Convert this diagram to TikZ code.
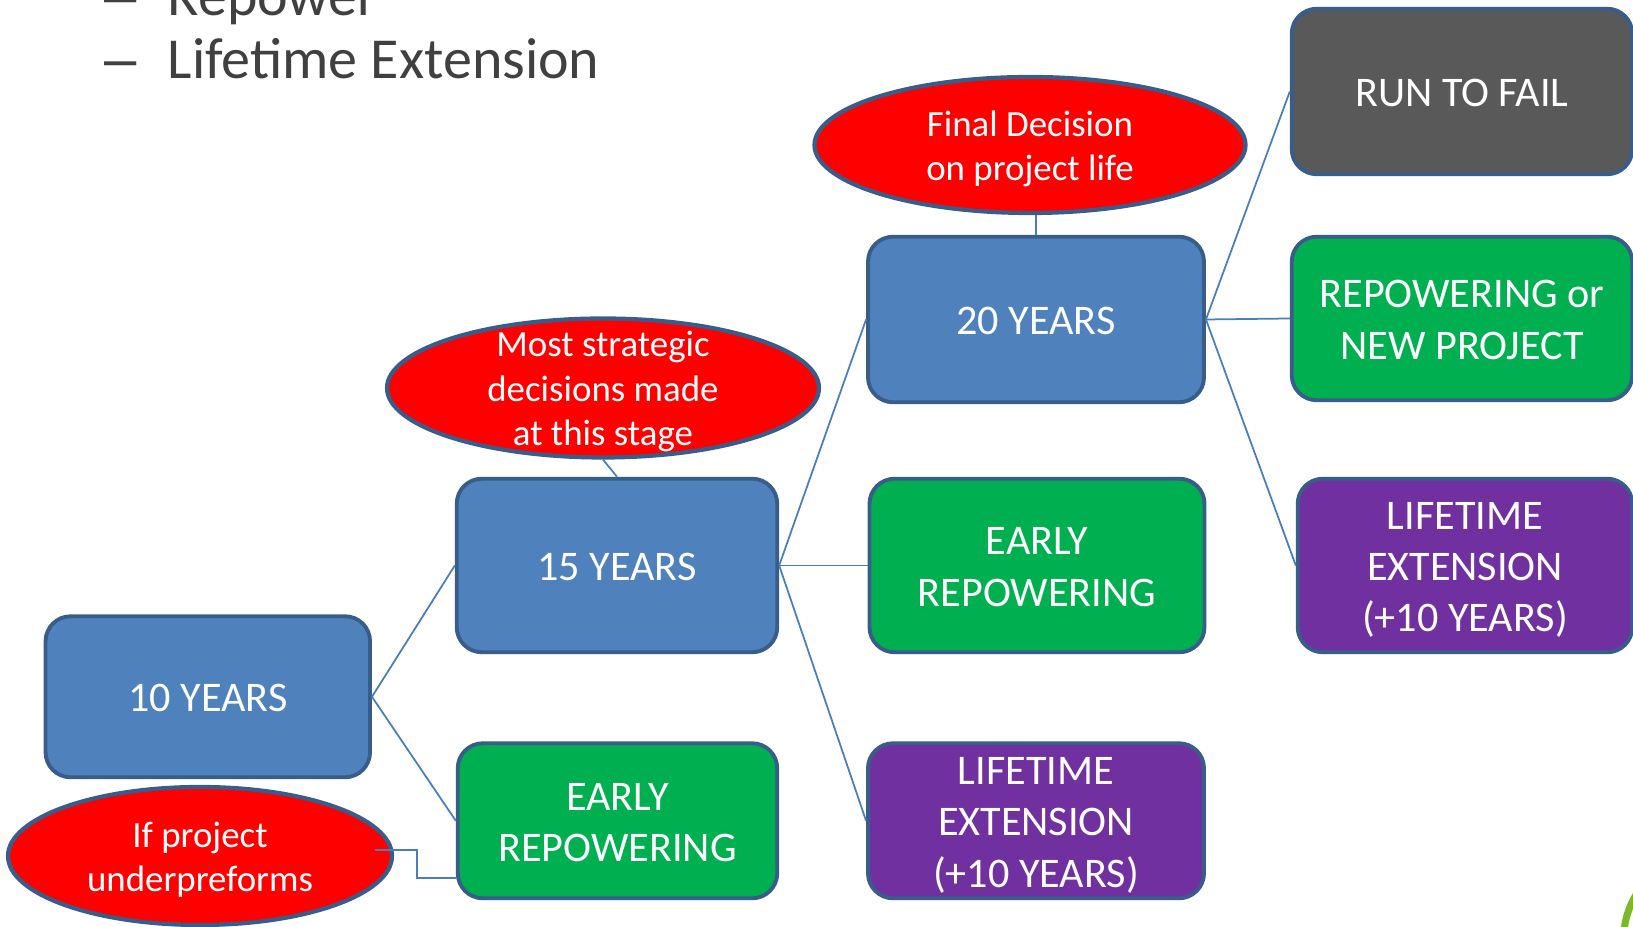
\documentclass[tikz,border=0pt]{standalone}
\usepackage{fontspec}
\setmainfont{Carlito}
\newfontfamily\dashfont{Liberation Sans}
\usepackage{xcolor}
\usepackage{tikz}
\usetikzlibrary{calc,shapes.geometric}
\definecolor{stageblue}{HTML}{4F81BD}
\definecolor{edge}{HTML}{385D8A}
\definecolor{linkblue}{HTML}{4A7EBB}
\definecolor{repgreen}{HTML}{00B050}
\definecolor{extpurple}{HTML}{7030A0}
\definecolor{failgray}{HTML}{595959}
\definecolor{heading}{HTML}{404040}
\definecolor{logogreen}{HTML}{7AB929}
% line boxes as the slide sets them: full ascent on the first line
\newcommand{\toprow}{\rule{0pt}{11.6pt}}
\newcommand{\notetop}{\rule{0pt}{10.2pt}}
\tikzset{
  box/.style={draw=edge, line width=1.1pt, rounded corners=0.25cm, text=white, align=center,
    inner xsep=2pt, inner ysep=0pt,
    font=\fontsize{12}{14.6}\selectfont, execute at end node={\rule[-3pt]{0pt}{3pt}}},
  stage/.style={box, fill=stageblue},
  repower/.style={box, fill=repgreen},
  extend/.style={box, fill=extpurple},
  fail/.style={box, fill=failgray},
  note/.style={ellipse, draw=edge, fill=red, line width=1.2pt, inner sep=0pt},
  notetext/.style={text=white, align=center, inner sep=0pt,
    font=\fontsize{10.5}{12.7}\selectfont, execute at end node={\rule[-2.6pt]{0pt}{2.6pt}}},
  link/.style={draw=linkblue, line width=0.5pt},
  bullet/.style={text=heading, anchor=base west, inner sep=0pt, font=\fontsize{16.5}{19}\selectfont},
}

\begin{document}
\begin{tikzpicture}
  \useasboundingbox (0,0) rectangle (16.33,9.27);

  % bullet lines of the slide, cut at the top
  \node[bullet] (dashA) at (1.04,9.11) {\dashfont –};
  \node[bullet] (repowerline) at (1.67,9.11) {Repower};
  \node[bullet] (dashB) at (1.04,8.48) {\dashfont –};
  \node[bullet] (lifeline) at (1.67,8.48) {Lifetime Extension};

  % stages
  \node[stage, minimum width=3.245cm, minimum height=1.61cm] (ten) at (2.078,2.302) {\toprow 10 YEARS};
  \node[stage, minimum width=3.205cm, minimum height=1.735cm] (fifteen) at (6.17,3.615) {\toprow 15 YEARS};
  \node[stage, minimum width=3.36cm, minimum height=1.655cm] (twenty) at (10.36,6.075) {\toprow 20 YEARS};

  % outcomes
  \node[repower, minimum width=3.195cm, minimum height=1.55cm] (earlyA) at (6.175,1.062) {\toprow EARLY\\REPOWERING};
  \node[repower, minimum width=3.35cm, minimum height=1.735cm] (earlyB) at (10.37,3.615) {\toprow EARLY\\REPOWERING};
  \node[extend, minimum width=3.36cm, minimum height=1.55cm] (extA) at (10.36,1.062) {\toprow LIFETIME\\EXTENSION\\(+10 YEARS)};
  \node[fail, minimum width=3.405cm, minimum height=1.655cm] (run) at (14.62,8.355) {\toprow RUN TO FAIL};
  \node[repower, minimum width=3.405cm, minimum height=1.635cm] (newproj) at (14.62,6.085) {\toprow REPOWERING or\\NEW PROJECT};
  \node[extend, minimum width=3.345cm, minimum height=1.735cm] (extB) at (14.65,3.615) {\toprow LIFETIME\\EXTENSION\\(+10 YEARS)};

  % red notes
  \node[note, minimum width=4.31cm, minimum height=1.36cm,
        label={[notetext]center:\notetop Final Decision\\on project life}] (final) at (10.30,7.82) {};
  \node[note, minimum width=4.32cm, minimum height=1.39cm,
        label={[notetext]center:\notetop Most strategic\\decisions made\\at this stage}] (most) at (6.03,5.39) {};
  \node[note, minimum width=3.84cm, minimum height=1.38cm,
        label={[notetext]center:\notetop If project\\underpreforms}] (ifproj) at (2.00,0.71) {};

  % tree
  \draw[link] (ten.east) -- (fifteen.west);
  \draw[link] (ten.east) -- (earlyA.west);
  \draw[link] (fifteen.east) -- (twenty.west);
  \draw[link] (fifteen.east) -- (earlyB.west);
  \draw[link] (fifteen.east) -- (extA.west);
  \draw[link] (twenty.east) -- (run.west);
  \draw[link] (twenty.east) -- (newproj.west);
  \draw[link] (twenty.east) -- (extB.west);

  % notes to stages
  \draw[link] (twenty.north) -- (twenty.north |- final.south);
  \draw[link] (most.south) -- (fifteen.north);
  \coordinate (ifstart) at ($(ifproj.east)+(-0.19,0.06)$);
  \draw[link] (ifstart) -- ++(0.42,0) |- ($(earlyA.west)+(0,-0.57)$);

  % logo corner
  \draw[logogreen, line width=0.07cm] (17.11,-0.13) circle (0.875);
\end{tikzpicture}
\end{document}
